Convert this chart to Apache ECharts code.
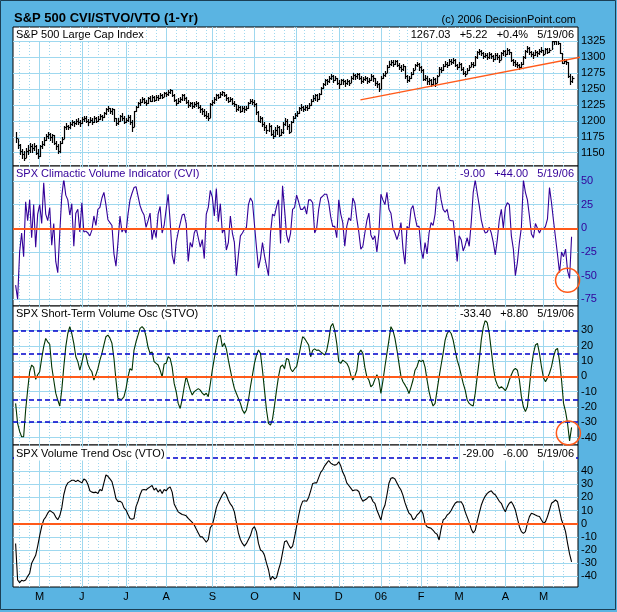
<!DOCTYPE html>
<html><head><meta charset="utf-8">
<script src="https://cdn.jsdelivr.net/npm/echarts@6/dist/echarts.min.js"></script>
<style>html,body{margin:0;padding:0;background:#5ab4e2;}#c{width:617px;height:612px;}</style>
</head><body><div id="c"></div>
<script>
// ---- axis / calendar data ----
const monthLabels = ['M','J','J','A','S','O','N','D','06','F','M','A','M'];
const monthStarts = [12,33,55,75,98,119,140,161,182,202,221,244,263];
const weekStarts = [2,7,12,17,22,27,32,36,41,46,51,56,60,65,70,75,80,85,90,95,100,104,109,114,119,124,129,134,139,144,149,154,158,163,168,173,178,182,186,191,195,200,205,210,215,219,224,229,234,239,244,249,253,258,263,268,273];
const priceTicks = [1150,1175,1200,1225,1250,1275,1300,1325];
const cviTicks = [-75,-50,-25,0,25,50];
const stvoTicks = [-40,-30,-20,-10,0,10,20,30];
const vtoTicks = [-40,-30,-20,-10,0,10,20,30,40];
const stvoBands = [-30,-15,15,30];
const vtoBands = [50];

// ---- S&P 500 daily bars (high / low / close) ----
const priceClose = [
1173,1162,1152,1148,1142,1152,1155,1160,1157,1160,
1150,1145,1160,1164,1170,1176,1180,1175,1178,1165,
1160,1152,1165,1172,1190,1192,1190,1195,1199,1196,
1200,1198,1196,1203,1205,1200,1198,1202,1199,1204,
1200,1203,1208,1206,1212,1218,1220,1215,1218,1205,
1196,1200,1208,1205,1198,1201,1206,1198,1190,1215,
1222,1228,1230,1235,1230,1228,1236,1232,1237,1233,
1238,1236,1241,1238,1244,1242,1245,1248,1240,1233,
1228,1232,1234,1240,1236,1230,1225,1228,1224,1226,
1228,1222,1218,1215,1210,1208,1205,1226,1230,1234,
1240,1238,1243,1245,1240,1236,1232,1235,1228,1226,
1218,1222,1216,1220,1218,1221,1228,1232,1230,1226,
1214,1200,1205,1195,1190,1186,1192,1180,1177,1185,
1190,1178,1182,1195,1200,1192,1183,1198,1205,1210,
1212,1220,1222,1218,1222,1220,1225,1232,1236,1240,
1234,1242,1252,1258,1264,1262,1268,1270,1265,1268,
1260,1258,1264,1262,1259,1262,1260,1268,1272,1270,
1273,1268,1262,1266,1268,1262,1264,1270,1267,1260,
1258,1250,1268,1272,1275,1285,1290,1292,1290,1294,
1288,1285,1282,1286,1270,1264,1268,1274,1280,1288,
1290,1284,1280,1266,1268,1262,1264,1258,1266,1260,
1270,1282,1280,1286,1290,1288,1294,1292,1296,1288,
1284,1290,1282,1276,1274,1280,1285,1290,1288,1300,
1308,1310,1306,1302,1304,1300,1305,1302,1298,1304,
1300,1296,1306,1310,1305,1312,1308,1295,1292,1290,
1288,1285,1290,1300,1310,1315,1308,1305,1303,1308,
1306,1310,1311,1305,1313,1308,1312,1325,1326,1327,
1323,1306,1291,1294,1292,1270,1262,1267];
const priceHigh = [
1182,1172,1163,1156,1152,1158,1162,1166,1163,1165,
1162,1156,1162,1168,1174,1180,1182,1181,1180,1178,
1168,1164,1168,1175,1192,1196,1194,1198,1202,1200,
1203,1204,1201,1206,1208,1207,1203,1206,1205,1207,
1206,1207,1211,1210,1214,1220,1223,1221,1221,1219,
1205,1204,1210,1212,1207,1205,1210,1209,1202,1216,
1224,1230,1234,1238,1236,1233,1238,1239,1240,1239,
1240,1241,1244,1243,1246,1246,1248,1250,1249,1242,
1235,1236,1238,1242,1242,1238,1233,1230,1230,1230,
1231,1229,1225,1221,1218,1215,1212,1228,1233,1237,
1242,1243,1246,1247,1246,1242,1238,1238,1236,1231,
1227,1225,1224,1223,1223,1224,1230,1235,1234,1233,
1228,1216,1208,1206,1198,1194,1196,1193,1186,1190,
1194,1192,1188,1198,1204,1203,1195,1200,1208,1213,
1216,1222,1226,1224,1225,1225,1228,1235,1240,1242,
1242,1244,1254,1260,1266,1266,1270,1273,1272,1271,
1268,1264,1266,1266,1264,1266,1265,1270,1275,1274,
1276,1275,1270,1269,1271,1269,1267,1273,1272,1268,
1262,1260,1270,1276,1278,1288,1294,1296,1295,1296,
1295,1291,1288,1289,1287,1272,1271,1277,1283,1290,
1293,1291,1286,1281,1272,1270,1268,1266,1269,1268,
1272,1284,1285,1289,1294,1293,1297,1297,1299,1297,
1290,1292,1291,1284,1279,1283,1288,1293,1293,1302,
1310,1313,1312,1308,1307,1306,1308,1307,1304,1306,
1306,1303,1308,1312,1311,1314,1313,1309,1297,1295,
1293,1290,1293,1302,1312,1318,1316,1310,1308,1311,
1310,1313,1316,1312,1315,1314,1315,1326,1327,1330,
1327,1323,1306,1297,1297,1292,1273,1270];
const priceLow = [
1165,1156,1146,1140,1137,1141,1147,1150,1149,1152,
1146,1140,1144,1156,1160,1168,1172,1168,1166,1162,
1154,1148,1150,1163,1172,1186,1185,1188,1192,1190,
1194,1193,1190,1195,1199,1196,1192,1196,1194,1197,
1197,1198,1202,1200,1205,1210,1214,1211,1210,1198,
1192,1194,1198,1200,1195,1196,1198,1194,1183,1190,
1214,1220,1224,1228,1226,1224,1227,1229,1230,1229,
1231,1232,1235,1234,1237,1238,1239,1242,1237,1230,
1224,1226,1228,1232,1232,1226,1221,1222,1219,1220,
1222,1218,1213,1210,1206,1203,1200,1205,1224,1227,
1232,1234,1236,1239,1237,1232,1228,1229,1225,1222,
1214,1215,1212,1214,1213,1215,1219,1226,1225,1222,
1210,1198,1196,1190,1184,1180,1183,1176,1172,1175,
1178,1175,1177,1180,1192,1186,1180,1183,1196,1203,
1206,1211,1216,1214,1216,1215,1218,1224,1229,1232,
1230,1233,1240,1250,1255,1257,1260,1264,1260,1262,
1256,1250,1256,1257,1254,1257,1255,1259,1265,1264,
1266,1264,1258,1260,1262,1258,1259,1263,1261,1255,
1252,1246,1250,1266,1269,1275,1283,1286,1285,1288,
1284,1280,1277,1279,1266,1260,1261,1266,1272,1280,
1284,1279,1275,1262,1262,1257,1257,1253,1257,1254,
1259,1270,1275,1279,1284,1283,1287,1288,1290,1284,
1280,1283,1278,1272,1269,1273,1278,1284,1283,1287,
1298,1304,1302,1298,1299,1296,1298,1297,1293,1296,
1296,1291,1295,1302,1300,1303,1303,1292,1286,1284,
1283,1280,1282,1288,1298,1307,1304,1300,1298,1302,
1300,1303,1307,1302,1305,1305,1306,1312,1320,1320,
1320,1305,1290,1289,1288,1268,1256,1260];
const trendLine = [[171.8,1233],[293.4,1307.5]];

// ---- indicators ----
const cvi = [
-60,-75,-25,-5,-30,28,8,30,-10,25,
-20,15,25,5,48,15,8,22,-18,5,
-35,-47,-5,34,52,35,30,14,26,-19,
16,20,-4,27,-4,-3,-5,-8,-2,13,
3,20,22,32,38,25,9,6,3,-27,
-40,-15,13,-4,0,-5,15,30,37,43,
44,34,24,18,14,1,8,16,-12,0,
-10,15,23,-5,3,20,36,7,-28,-38,
-15,-4,5,14,15,5,-35,-15,-20,-5,
0,-10,-20,-12,-32,15,22,40,33,13,
42,7,26,-5,0,-23,-15,13,-5,-15,
-50,-28,-8,-5,-1,1,25,32,28,4,
-20,-42,-32,-15,-29,-40,-50,-5,15,13,
23,30,-16,45,20,-7,-15,-5,20,22,
35,28,20,20,23,15,30,30,27,-5,
0,20,32,34,36,36,27,12,2,2,
-10,30,15,6,-19,2,11,8,32,27,
10,-4,-22,-19,-5,8,16,-7,-12,-8,
-25,-5,36,30,25,38,20,16,0,-5,
-12,-5,6,-22,-38,2,-1,20,24,12,
2,2,-22,-32,-15,-27,-5,6,3,15,
40,44,30,20,17,20,9,8,8,-10,
-35,-8,-12,-24,-18,-10,-19,6,38,51,
37,24,9,0,-5,-4,1,-5,-15,-28,
-12,9,20,0,22,27,25,-8,-22,-50,
-36,-15,1,51,38,30,13,-6,-10,5,
0,-5,0,-1,2,10,43,27,8,-10,
-28,-47,-25,-30,-22,-45,-53,-9];
const stvo = [
-17.7,-30.8,-36,-39.5,-39.5,-22,-9,3,7.4,6,
-2,1,3,11.7,19.4,24.8,22.6,21,6.3,-2.4,
-11,-15.5,-19.4,-9,6,19.4,28,32.5,28,21.6,
12.8,9.6,4.1,9,15,14,8,5,3,-2.4,
1,5,10.6,15,20.5,25.9,27,25,21.6,11.7,
-2.4,-14.4,-15,-15,-13.3,-8,-0.3,5,4,17.2,
22.6,27,31.4,32.5,31,26,19,15,16,9.6,
8.5,7.4,4,-0.3,8,8.5,12.8,11.7,6,-4.6,
-10,-17.7,-21,-15,-6.8,0,-4.6,-9,-12.2,-10,
-9,-8,-9,-11,-12.2,-11,-13.3,-5,4.1,11.7,
19.4,25.9,27,19.4,21.6,18,10.6,4,-2.4,-7.9,
-11.2,-14.4,-17.7,-22,-24.2,-22,-15.5,-6.8,0.8,8.5,
13.9,17.2,15,4,-9,-22,-30.8,-31.9,-28,-19,
-9,0,6.3,7.4,5,11.7,11,5,3,5,
6.3,12.8,19.4,25.9,24.8,22.6,20.5,12.8,17,18,
17,17.2,16,15,13.9,17,23.7,32.5,34.6,30,
21.6,9.6,8.5,10.6,9.6,8.5,6,0.8,-2.4,0,
4,15,17.2,15,6,-0.3,-2.4,-6.8,-5.6,-2,
1,-2.4,-11.2,-3,6.3,15,23.7,32.5,30,24.8,
17.2,8.5,0,-3.5,-5.6,-8,-11.2,-7,-2.4,4,
6.3,10.6,9.6,10.6,6,-2.4,-10,-15.5,-19.4,-17.7,
-9,-0.3,7.4,15,23.7,28,29.8,28,23.7,17,
10.6,6.3,0.8,-4.6,-9,-15.5,-17.7,-18.8,-19.4,-11,
0,10.6,23.7,32,36.8,35,28,17,6,-2,
-5.6,-7.9,-6.8,-7.9,-9.4,-6.8,-2.4,1,4,5.2,
4,-2.4,-13.3,-19.9,-23.1,-19.9,-6.8,6.3,15,20.5,
21.6,15,6.3,-1,-3.5,-1,2,6.3,12.8,17.2,
18.3,10,-2.4,-17.7,-23.1,-30.8,-42.2,-33.4];
const vto = [
-15,-42.8,-44.8,-43,-43.5,-42.8,-40,-37.7,-30,-27,
-24,-17,-9,-2,3,5,8,10,9,8,
5,3,6,12,22,28,31,32,33,33,
32,33,32,31,34,33,30,25,24,23.6,
24,23,26,25,31,37,36,34,32,26,
19,17,17,16,12,10.4,7,4,3.3,4,
13,17,22,25.6,26,25.6,27,28,29,25.6,
27,24,26,23,26,25,27,28,24,15,
12,9,8,7,6.6,6,4,2.5,1,-1,
-4,-7,-10,-10,-12,-14,-12,-3,-1,5,
12,16,19,22,24.3,22,18,15,13,9,
1,-7,-12,-15,-17,-15,-12,-9,-4,-2.3,
-6,-15,-20,-21,-24,-30,-35,-42.8,-40,-42,
-41,-35,-30,-22,-13.7,-13,-16,-18.7,-17,-10,
-2,6,13,17,17.5,17,20,25,30.5,31,
31,35,39,41,44,46,48,46,45,44.5,
45,47,44,39,36,31,29,27,25,25.6,
25.6,24.5,20,17,18,19,20.5,20.5,17,15.5,
10.4,6.6,2.8,10.4,14,21.8,30.7,34.5,35,34,
31,28,25.6,21.5,16,11.7,8,6.6,3,4,
6.6,8,10.4,7.5,0,-2.3,-3,-3.5,-5,-7,
-8,-12.4,-4,2.8,4,6.6,7.9,10,13,15.5,
16.7,16.5,16.7,14,9,5,1,-4,-7,-5,
2,8,14,18,21,23,24.3,25,23,22,
19.5,17,15.5,11.7,9.1,13,15.5,16.7,14,10.4,
4,-2.3,-6,-7.3,-6,0.3,5.4,7.9,7.4,6.6,
5.9,5.4,2.8,0.3,1.5,5.4,10.4,15.5,16.7,18,
16.7,10,2.8,-1,-6,-15,-23,-29];
const cviCircle = [275, -55];
const stvoCircle = [275.4, -37];

// ---- styling ----
const FONT = 'Liberation Sans, Arial, sans-serif';
const GRIDC = '#9fd8ef';
const ORANGE = '#ff5a1a';
const BLUE = '#0000cc';
const CVIC = '#330099';
const STVOC = '#003300';
const panels = [
  {top:27, height:139, min:1129.1, max:1347.5, ticks:priceTicks, labelColor:'#000'},
  {top:166, height:140, min:-82.1, max:65.8, ticks:cviTicks, labelColor:CVIC},
  {top:306, height:139, min:-44.9, max:46.0, ticks:stvoTicks, labelColor:'#000'},
  {top:445, height:142, min:-48.1, max:59.8, ticks:vtoTicks, labelColor:'#000'}
];
const XMIN = -1.3, XMAX = 280.2;

const grid = panels.map(p => ({left:13, width:565, top:p.top, height:p.height, show:true,
  backgroundColor:'#fff', borderColor:'#000', borderWidth:1, containLabel:false}));
const xAxis = [], yAxis = [];
panels.forEach((p, i) => {
  xAxis.push({type:'value', gridIndex:i, min:XMIN, max:XMAX, position:'bottom',
    axisLine:{show:false}, axisTick:{show:false, customValues:monthStarts},
    axisLabel:{show:i===3, customValues:monthStarts, margin:4, fontFamily:FONT, fontSize:11, color:'#000',
      formatter:v => monthLabels[monthStarts.indexOf(v)] || ''},
    splitLine:{show:true, lineStyle:{color:GRIDC, width:1}}});
  xAxis.push({type:'value', gridIndex:i, min:XMIN, max:XMAX, position:'top',
    axisLine:{show:false}, axisTick:{show:false, customValues:weekStarts},
    axisLabel:{show:false}, splitLine:{show:true, lineStyle:{color:GRIDC, width:1, type:[1,2]}}});
  yAxis.push({type:'value', gridIndex:i, min:p.min, max:p.max, position:'right',
    axisLine:{show:false}, axisTick:{show:false, customValues:p.ticks},
    axisLabel:{customValues:p.ticks, margin:3, fontFamily:FONT, fontSize:11, color:p.labelColor,
      formatter:v => String(v)},
    splitLine:{show:true, lineStyle:{color:GRIDC, width:1}}});
});

const zeroLine = {silent:true, symbol:'none', label:{show:false}, animation:false,
  lineStyle:{color:ORANGE, width:2, type:'solid'}, data:[{yAxis:0}]};

function panelTitle(text, top, color, side) {
  const t = {text, top, padding:[1,2,1,2], backgroundColor:'#fff',
    textStyle:{fontFamily:FONT, fontSize:11, fontWeight:'normal', color}};
  if (side === 'left') t.left = 14; else t.right = 41;
  return t;
}

const option = {
  animation:false,
  backgroundColor:'#5ab4e2',
  title:[
    {text:'S&P 500 CVI/STVO/VTO (1-Yr)', left:14, top:12, padding:0,
      textStyle:{fontFamily:FONT, fontSize:13, fontWeight:'bold', color:'#000'}},
    {text:'(c) 2006 DecisionPoint.com', right:41, top:14, padding:0,
      textStyle:{fontFamily:FONT, fontSize:11, fontWeight:'normal', color:'#000'}},
    panelTitle('S&P 500 Large Cap Index', 28, '#000', 'left'),
    panelTitle('1267.03   +5.22   +0.4%   5/19/06', 28, '#000', 'right'),
    panelTitle('SPX Climactic Volume Indicator (CVI)', 167.5, CVIC, 'left'),
    panelTitle('-9.00   +44.00   5/19/06', 167.5, CVIC, 'right'),
    panelTitle('SPX Short-Term Volume Osc (STVO)', 307.5, '#000', 'left'),
    panelTitle('-33.40   +8.80   5/19/06', 307.5, '#000', 'right'),
    panelTitle('SPX Volume Trend Osc (VTO)', 447.5, '#000', 'left'),
    panelTitle('-29.00   -6.00   5/19/06', 447.5, '#000', 'right')
  ],
  graphic:[{type:'rect', silent:true, z:100,
    shape:{x:0.5, y:0.5, width:615, height:609},
    style:{fill:'none', stroke:'#1b3f55', lineWidth:1}}],
  grid, xAxis, yAxis,
  series:[
    {type:'custom', name:'SPX', xAxisIndex:0, yAxisIndex:0, z:3,
      data: priceClose.map((c, i) => [i, priceLow[i], priceHigh[i], c]),
      renderItem:(params, api) => {
        const x = api.value(0);
        const lo = api.coord([x, api.value(1)]);
        const hi = api.coord([x, api.value(2)]);
        const cl = api.coord([x, api.value(3)]);
        const px = Math.round(lo[0]) + 0.5;
        const cy = Math.round(cl[1]) + 0.5;
        return {type:'group', children:[
          {type:'line', shape:{x1:px, y1:Math.round(lo[1]), x2:px, y2:Math.round(hi[1])}, style:{stroke:'#000', lineWidth:1.2}},
          {type:'line', shape:{x1:px, y1:cy, x2:px+2, y2:cy}, style:{stroke:'#000', lineWidth:1.2}}
        ]};
      }},
    {type:'line', name:'trend', xAxisIndex:0, yAxisIndex:0, z:4, clip:false, data:trendLine,
      symbol:'none', lineStyle:{color:ORANGE, width:1.5}},
    {type:'line', name:'CVI', xAxisIndex:2, yAxisIndex:1, z:3, data:cvi.map((v, i) => [i, v]),
      symbol:'none', lineStyle:{color:CVIC, width:1.1}, markLine:zeroLine,
      markPoint:{silent:true, symbol:'circle', symbolSize:24, label:{show:false},
        itemStyle:{color:'rgba(0,0,0,0)', borderColor:ORANGE, borderWidth:1.5},
        data:[{coord:cviCircle}]}},
    {type:'line', name:'STVO', xAxisIndex:4, yAxisIndex:2, z:3, data:stvo.map((v, i) => [i, v]),
      symbol:'none', lineStyle:{color:STVOC, width:1.1},
      markLine:{silent:true, symbol:'none', label:{show:false},
        data:[{yAxis:0, lineStyle:{color:ORANGE, width:2, type:'solid'}}].concat(
          stvoBands.map(b => ({yAxis:b, lineStyle:{color:BLUE, width:1.5, type:[5,3]}})))},
      markPoint:{silent:true, symbol:'circle', symbolSize:24, label:{show:false},
        itemStyle:{color:'rgba(0,0,0,0)', borderColor:ORANGE, borderWidth:1.5},
        data:[{coord:stvoCircle}]}},
    {type:'line', name:'VTO', xAxisIndex:6, yAxisIndex:3, z:3, data:vto.map((v, i) => [i, v]),
      symbol:'none', lineStyle:{color:'#000', width:1.1},
      markLine:{silent:true, symbol:'none', label:{show:false},
        data:[{yAxis:0, lineStyle:{color:ORANGE, width:2, type:'solid'}}].concat(
          vtoBands.map(b => ({yAxis:b, lineStyle:{color:BLUE, width:1.5, type:[5,3]}})))}}
  ]
};
const chart = echarts.init(document.getElementById('c'), null, {renderer:'canvas'});
chart.setOption(option);
</script></body></html>
